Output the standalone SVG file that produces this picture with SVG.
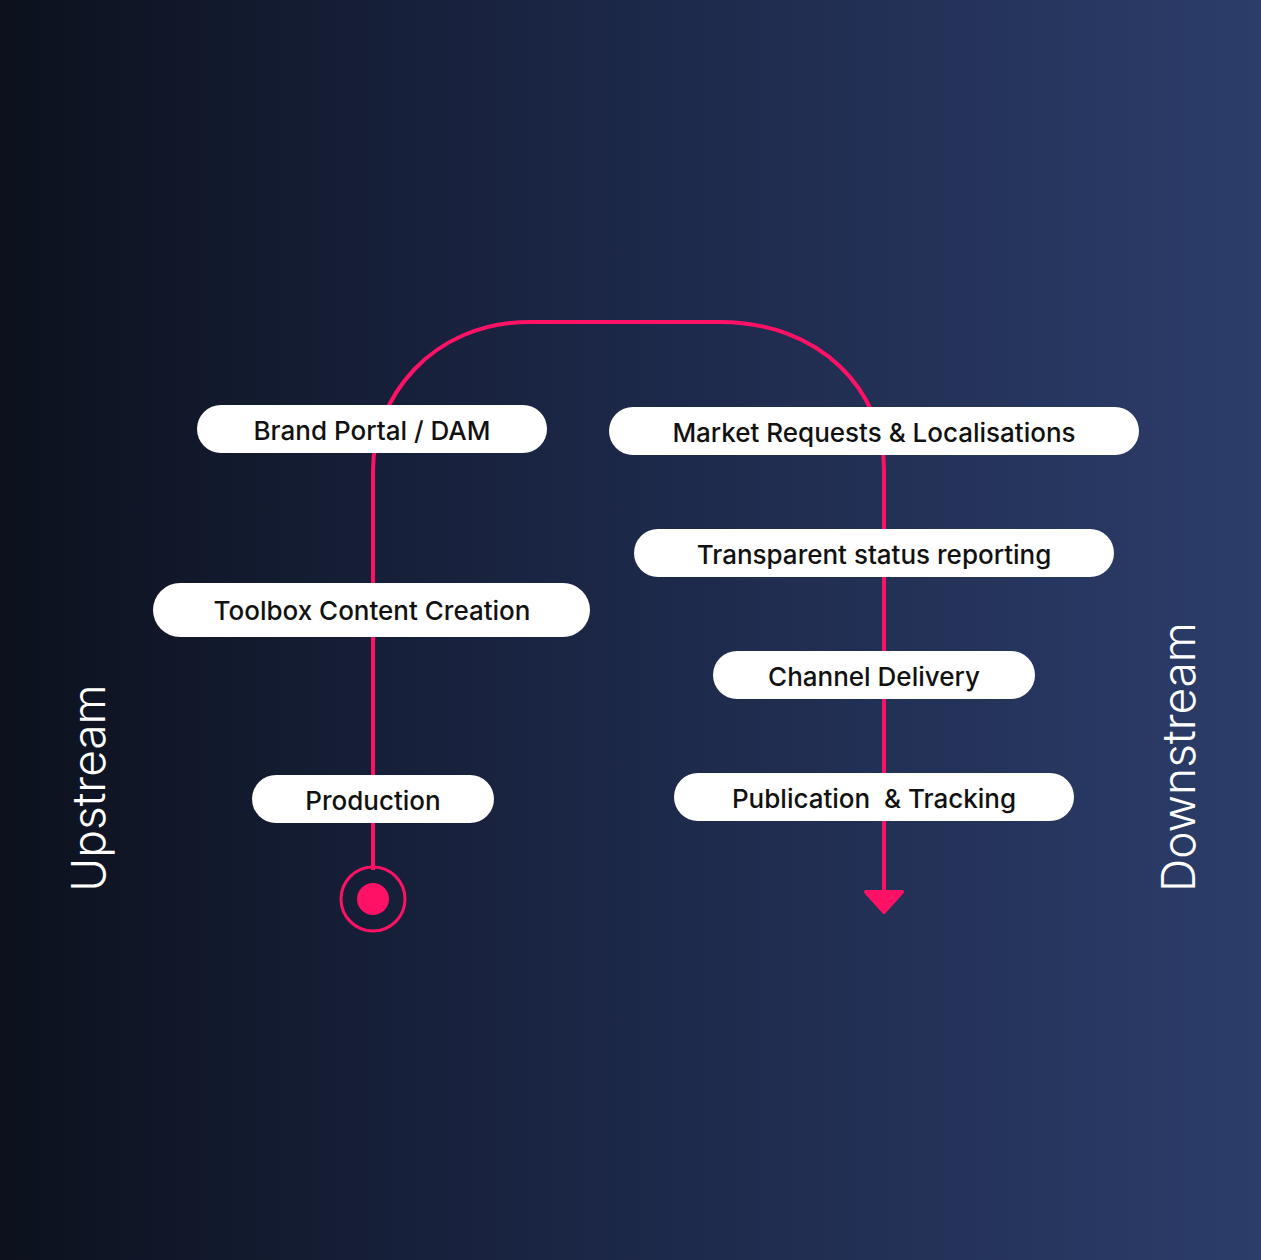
<svg xmlns="http://www.w3.org/2000/svg" width="1261" height="1260" viewBox="0 0 1261 1260">
<defs>
<linearGradient id="bg" x1="0" y1="0" x2="1" y2="0">
<stop offset="0" stop-color="#0c111d"/>
<stop offset="0.45" stop-color="#1b2645"/>
<stop offset="1" stop-color="#2c3d6a"/>
</linearGradient>
<style>
.pill{fill:#fff}
.lbl{font-family:Inter,"Liberation Sans",sans-serif;font-size:26px;font-weight:500;fill:#111;text-anchor:middle;dominant-baseline:central}
.side{font-family:Inter,"Liberation Sans",sans-serif;font-size:46px;font-weight:300;fill:#fff;text-anchor:middle;dominant-baseline:central}
.ln{fill:none;stroke:#ff1166;stroke-width:4}
</style>
</defs>
<rect width="1261" height="1260" fill="url(#bg)"/>
<g id="connectors">
<path class="ln" d="M373,870 V470 C373,400 430,322 530,322 H720 C820,322 884,390 884,470 V895"/>
<path d="M866,892 H902 L884,912 Z" fill="#ff1166" stroke="#ff1166" stroke-width="4" stroke-linejoin="round"/>
</g>
<g id="start">
<circle cx="373" cy="899" r="32" fill="none" stroke="#ff1166" stroke-width="3"/>
<circle cx="373" cy="899" r="16" fill="#ff1166"/>
</g>
<g id="brand"><rect class="pill" x="197" y="405" width="350" height="48" rx="24"/><text class="lbl" x="372" y="430">Brand Portal / DAM</text></g>
<g id="market"><rect class="pill" x="609" y="407" width="530" height="48" rx="24"/><text class="lbl" x="874" y="432">Market Requests &amp; Localisations</text></g>
<g id="transparent"><rect class="pill" x="634" y="529" width="480" height="48" rx="24"/><text class="lbl" x="874" y="554">Transparent status reporting</text></g>
<g id="toolbox"><rect class="pill" x="153" y="583" width="437" height="54" rx="27"/><text class="lbl" x="372" y="610">Toolbox Content Creation</text></g>
<g id="channel"><rect class="pill" x="713" y="651" width="322" height="48" rx="24"/><text class="lbl" x="874" y="676">Channel Delivery</text></g>
<g id="production"><rect class="pill" x="252" y="775" width="242" height="48" rx="24"/><text class="lbl" x="373" y="800">Production</text></g>
<g id="publication"><rect class="pill" x="674" y="773" width="400" height="48" rx="24"/><text class="lbl" x="874" y="798" xml:space="preserve">Publication  &amp; Tracking</text></g>
<text class="side" transform="translate(88,788) rotate(-90)">Upstream</text>
<text class="side" transform="translate(1178,757) rotate(-90)">Downstream</text>
</svg>
